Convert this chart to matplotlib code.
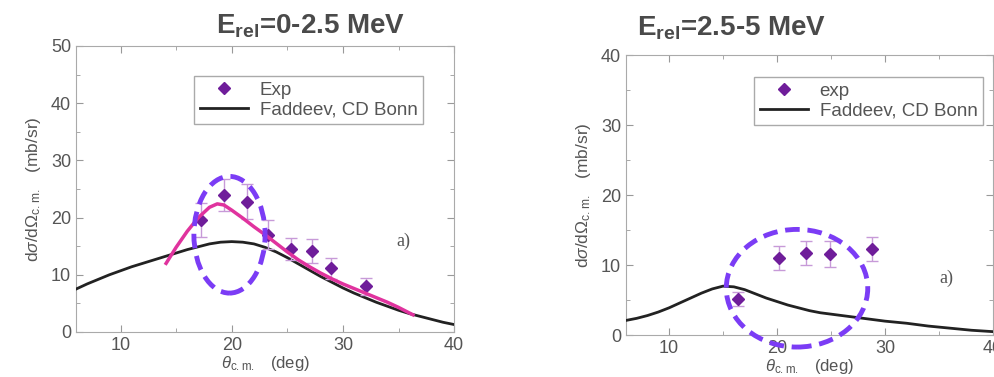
import matplotlib
matplotlib.use('Agg')
import matplotlib.pyplot as plt
from matplotlib.patches import Ellipse
from matplotlib.lines import Line2D
from matplotlib.ticker import MultipleLocator

plt.rcParams['font.family'] = ['Liberation Sans', 'DejaVu Sans']
plt.rcParams['mathtext.fontset'] = 'custom'
plt.rcParams['mathtext.rm'] = 'Liberation Sans'
plt.rcParams['mathtext.it'] = 'Liberation Sans:italic'
plt.rcParams['mathtext.bf'] = 'Liberation Sans:bold'

# panel 1: E_rel = 0-2.5 MeV
exp1_x = [17.2, 19.3, 21.4, 23.3, 25.3, 27.2, 28.9, 32.1]
exp1_y = [19.6, 24.0, 22.8, 17.0, 14.5, 14.2, 11.1, 8.0]
exp1_err = [3.0, 2.8, 3.0, 2.5, 2.0, 2.1, 1.8, 1.5]
fad1_x = [6, 7, 8, 9, 10, 11, 12, 13, 14, 15, 16, 17, 18, 19, 20, 21, 22, 23, 24, 25,
          26, 27, 28, 29, 30, 31, 32, 33, 34, 35, 36, 37, 38, 39, 40]
fad1_y = [7.5, 8.4, 9.2, 10.0, 10.7, 11.4, 12.0, 12.6, 13.2, 13.8, 14.4, 14.9, 15.4, 15.7, 15.8,
          15.7, 15.4, 14.8, 14.0, 13.0, 11.9, 10.8, 9.7, 8.7, 7.7, 6.8, 6.0, 5.2, 4.5, 3.8,
          3.2, 2.7, 2.2, 1.7, 1.3]
fit1_x = [14.1, 15, 16, 17, 18, 18.7, 19.3, 20, 21, 22, 23, 24, 25, 26, 27, 28, 29, 30,
          31, 32, 33, 34, 35, 36.3]
fit1_y = [12.0, 14.8, 17.6, 20.0, 21.8, 22.4, 22.2, 21.3, 19.9, 18.4, 17.0, 15.5, 14.0, 12.6,
          11.4, 10.3, 9.3, 8.4, 7.6, 6.8, 6.0, 5.2, 4.3, 3.0]

# panel 2: E_rel = 2.5-5 MeV
exp2_x = [16.4, 20.2, 22.7, 24.9, 28.8]
exp2_y = [5.2, 11.0, 11.7, 11.6, 12.3]
exp2_err = [1.0, 1.7, 1.7, 1.8, 1.7]
fad2_x = [6, 7, 8, 9, 10, 11, 12, 13, 14, 15, 16, 17, 18, 19, 20, 21, 22, 23, 24, 25,
          26, 27, 28, 29, 30, 32, 34, 36, 38, 40]
fad2_y = [2.1, 2.4, 2.8, 3.3, 3.9, 4.6, 5.3, 6.0, 6.6, 7.0, 6.9, 6.5, 5.9, 5.3, 4.8,
          4.3, 3.9, 3.5, 3.2, 3.0, 2.8, 2.6, 2.4, 2.2, 2.0, 1.7, 1.3, 1.0, 0.7, 0.5]

titles = [r'$\mathbf{E_{rel}}$=0-2.5 MeV', r'$\mathbf{E_{rel}}$=2.5-5 MeV']
exp_labels = ['Exp', 'exp']

purple = '#6f1d9a'
errc = '#c79ad8'

fig = plt.figure(figsize=(9.95, 3.77), dpi=100)
ax1 = fig.add_axes([0.0764, 0.1194, 0.380, 0.7586])
ax2 = fig.add_axes([0.629, 0.111, 0.369, 0.743])


def style(ax, ymax, ystep):
    ax.set_xlim(6, 40)
    ax.set_ylim(0, ymax)
    ax.xaxis.set_major_locator(MultipleLocator(10))
    ax.xaxis.set_minor_locator(MultipleLocator(5))
    ax.yaxis.set_major_locator(MultipleLocator(ystep))
    ax.yaxis.set_minor_locator(MultipleLocator(ystep / 2))
    ax.tick_params(which='both', direction='in', top=True, right=True,
                   color='#999999', labelcolor='#555555', labelsize=13)
    ax.tick_params(which='major', length=5)
    ax.tick_params(which='minor', length=3)
    for s in ax.spines.values():
        s.set_color('#aaaaaa')
    ax.set_ylabel(r'd$\sigma$/d$\Omega_{\rm c.m.}$   (mb/sr)', fontsize=12.5, color='#555555',
                  labelpad=6)
    ax.set_xlabel(r'$\theta_{\rm c.m.}$   (deg)', fontsize=12, color='#555555', labelpad=0)


def add_legend(ax, lab, anchor):
    hs = [Line2D([], [], ls='none', marker='D', ms=6, color=purple),
          Line2D([], [], color='#222222', lw=2)]
    ax.legend(hs, [lab, 'Faddeev, CD Bonn'], loc='upper right', bbox_to_anchor=anchor,
              borderaxespad=0, fontsize=13.5, fancybox=False, edgecolor='#aaaaaa',
              framealpha=1, handlelength=2.6, borderpad=0.3, labelspacing=0.15,
              handletextpad=0.6, labelcolor='#555555')


style(ax1, 50, 10)
style(ax2, 40, 10)

# left panel
ax1.plot(fad1_x, fad1_y, color='#222222', lw=2, zorder=3)
ax1.errorbar(exp1_x, exp1_y, yerr=exp1_err, fmt='D', ms=6, color=purple, ecolor=errc,
             elinewidth=1, capsize=4, zorder=4)
ax1.plot(fit1_x, fit1_y, color='#e0339e', lw=2.5, zorder=5)
ax1.add_patch(Ellipse((19.8, 17.0), 6.4, 20.4, fill=False, ec='#7b3cf5', lw=3.5,
                      ls=(0, (3, 1.6)), zorder=6))
ax1.text(35.4, 15.9, 'a)', family='Liberation Serif', fontsize=13, color='#555555',
         ha='center', va='center')
add_legend(ax1, exp_labels[0], (0.918, 0.895))
fig.text(0.312, 0.93, titles[0], fontsize=20, fontweight='bold', color='#4a4a4a',
         ha='center', va='center')

# right panel
ax2.plot(fad2_x, fad2_y, color='#222222', lw=2, zorder=3)
ax2.errorbar(exp2_x, exp2_y, yerr=exp2_err, fmt='D', ms=6, color=purple, ecolor=errc,
             elinewidth=1, capsize=4, zorder=4)
ax2.add_patch(Ellipse((21.85, 6.7), 13.1, 16.8, fill=False, ec='#7b3cf5', lw=3.5,
                      ls=(0, (3, 1.6)), zorder=6, clip_on=False))
ax2.text(35.7, 8.1, 'a)', family='Liberation Serif', fontsize=13, color='#555555',
         ha='center', va='center')
add_legend(ax2, exp_labels[1], (0.973, 0.921))
fig.text(0.735, 0.925, titles[1], fontsize=20, fontweight='bold', color='#4a4a4a',
         ha='center', va='center')

fig.savefig('out.png', dpi=100)
